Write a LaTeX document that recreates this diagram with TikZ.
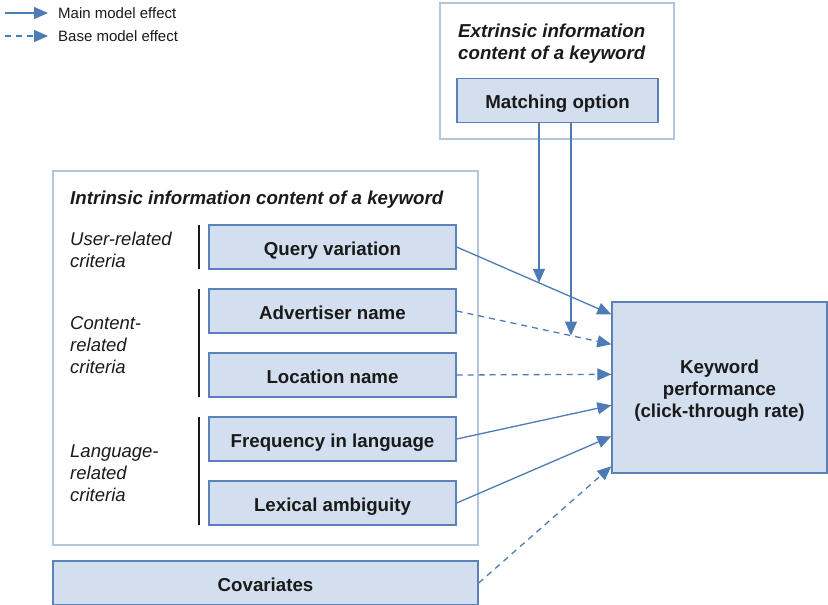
\documentclass[tikz,border=0pt]{standalone}
\usepackage{fontspec}
\setmainfont{Liberation Sans}
\usetikzlibrary{arrows.meta,calc}
\definecolor{boxfill}{HTML}{D3DFEF}
\definecolor{boxline}{HTML}{5A82B8}
\definecolor{grpline}{HTML}{B4C6DD}
\definecolor{arr}{HTML}{4D7BB5}
\definecolor{txt}{HTML}{1A1A1A}
\tikzset{
  box/.style={draw=boxline, fill=boxfill, line width=1.4pt, minimum height=44pt, inner sep=0pt,
    font=\fontsize{18.7}{22}\selectfont\bfseries, text=txt, align=center,
    text height=16pt, text depth=0pt},
  bigbox/.style={draw=boxline, fill=boxfill, line width=1.4pt, inner sep=0pt},
  bigtxt/.style={font=\fontsize{18.7}{22}\selectfont\bfseries, text=txt, align=center, inner sep=0pt},
  grp/.style={draw=grpline, line width=1.4pt},
  lbl/.style={font=\fontsize{18.5}{22}\selectfont\itshape, text=txt, align=left, anchor=west, inner sep=0pt},
  ttl/.style={font=\fontsize{18.7}{22}\selectfont\bfseries\itshape, text=txt, align=left, anchor=west, inner sep=0pt},
  eff/.style={draw=arr, line width=1.3pt, -{Triangle[length=14pt,width=12pt]}},
  base/.style={eff, dash pattern=on 6pt off 5pt},
  bar/.style={draw=txt, line width=1.4pt},
  leg/.style={font=\fontsize{15}{18}\selectfont, text=txt, anchor=west, inner sep=0pt}
}
\begin{document}
\begin{tikzpicture}[x=1pt,y=-1pt]
\useasboundingbox (0,0) rectangle (828,605);
% legend
\coordinate (l1a) at (5,13); \coordinate (l1b) at (48,13);
\coordinate (l2a) at (5,36); \coordinate (l2b) at (48,36);
\draw[eff] (l1a) -- (l1b);
\draw[base] (l2a) -- (l2b);
\node[leg] (lt1) at (58,13) {Main model effect};
\node[leg] (lt2) at (58,36) {Base model effect};
% groups
\draw[grp] (440,3) rectangle (674,139);
\node[ttl] (ext) at (458,44) {Extrinsic information\\content of a keyword};
\draw[grp] (53,171) rectangle (478,545);
\node[ttl] (intr) at (70,199.5) {Intrinsic information content of a keyword};
% boxes
\node[box, minimum width=201pt] (mo) at (557.5,100.5) {Matching option};
\node[box, minimum width=247pt] (qv) at (332.5,247) {Query variation};
\node[box, minimum width=247pt] (adv) at (332.5,311) {Advertiser name};
\node[box, minimum width=247pt] (loc) at (332.5,375) {Location name};
\node[box, minimum width=247pt] (frq) at (332.5,439) {Frequency in language};
\node[box, minimum width=247pt] (lex) at (332.5,503) {Lexical ambiguity};
\node[box, minimum width=425pt] (cov) at (265.5,583) {Covariates};
\node[bigbox, minimum width=215pt, minimum height=171pt] (kp) at (719.5,387.5) {};
\node[bigtxt] (kpt) at (719.5,391) {Keyword\\performance\\(click-through rate)};
% criteria labels
\node[lbl] (c1) at (70,250) {User-related\\criteria};
\node[lbl] (c2) at (70,345) {Content-\\related\\criteria};
\node[lbl] (c3) at (70,473) {Language-\\related\\criteria};
\draw[bar] (199,225) -- (199,269);
\draw[bar] (199,289) -- (199,397);
\draw[bar] (199,417) -- (199,525);
% targets on keyword performance
\coordinate (k1) at ([yshift=-13pt]kp.north west);
\coordinate (k2) at ([yshift=-43pt]kp.north west);
\coordinate (k3) at ([yshift=-73pt]kp.north west);
\coordinate (k4) at ([yshift=-104pt]kp.north west);
\coordinate (k5) at ([yshift=-135pt]kp.north west);
\coordinate (k6) at ([yshift=-165pt]kp.north west);
% effects
\draw[eff] (qv.east) -- coordinate[pos=0.532] (m1) (k1);
\draw[base] (adv.east) -- coordinate[pos=0.737] (m2) (k2);
\draw[base] (loc.east) -- (k3);
\draw[eff] (frq.east) -- (k4);
\draw[eff] (lex.east) -- (k5);
\draw[base] (cov.east) -- (k6);
\draw[eff] ([xshift=-18.5pt]mo.south) -- ([xshift=-18.5pt]mo.south |- m1);
\draw[eff] ([xshift=13.5pt]mo.south) -- ([xshift=13.5pt]mo.south |- m2);
\end{tikzpicture}
\end{document}
